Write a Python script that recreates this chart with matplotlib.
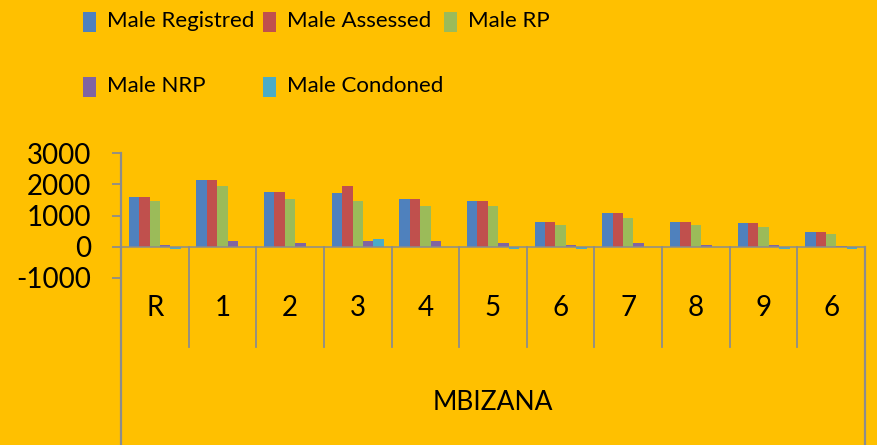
import matplotlib
matplotlib.use("Agg")
import matplotlib.pyplot as plt
from matplotlib.patches import Rectangle
from matplotlib.lines import Line2D
from matplotlib.transforms import blended_transform_factory
import numpy as np

# ---- data ----
categories = ["R", "1", "2", "3", "4", "5", "6", "7", "8", "9", "6"]
group_label = "MBIZANA"
series_names = ["Male Registred", "Male Assessed", "Male RP", "Male NRP", "Male Condoned"]
male_registred = [1580, 2150, 1760, 1710, 1520, 1470, 800, 1080, 800, 750, 460]
male_assessed = [1580, 2150, 1760, 1930, 1520, 1470, 800, 1080, 800, 750, 460]
male_rp = [1470, 1930, 1520, 1470, 1300, 1300, 690, 910, 690, 620, 400]
male_nrp = [65, 180, 120, 180, 180, 120, 65, 120, 65, 65, 10]
male_condoned = [-80, 0, 0, 240, 0, -80, -80, 0, 0, -80, -80]
yticks = [-1000, 0, 1000, 2000, 3000]

series = [male_registred, male_assessed, male_rp, male_nrp, male_condoned]
colors = ["#4F81BD", "#C0504D", "#9BBB59", "#8064A2", "#4BACC6"]
bg = "#FFC000"
axis_col = "#8C8C8C"

plt.rcParams["font.family"] = ["Lato", "DejaVu Sans"]
plt.rcParams["axes.unicode_minus"] = False

W, H = 877, 445
fig = plt.figure(figsize=(W / 100, H / 100), dpi=100, facecolor=bg)


def fx(px):
    return px / W


def fy(py):
    return 1 - py / H


# plot area spans the value range 3000 .. -1000
ax = fig.add_axes([fx(121), fy(278), fx(865) - fx(121), fy(153) - fy(278)])
ax.set_facecolor(bg)
ax.set_xlim(-0.5, len(categories) - 0.5)
ax.set_ylim(-1000, 3000)

n = len(series)
bw = 1 / (n + 1.5)
x = np.arange(len(categories))
for i, (vals, c) in enumerate(zip(series, colors)):
    ax.bar(x + (i - (n - 1) / 2) * bw, vals, width=bw, color=c, linewidth=0, zorder=2)

for s in ax.spines.values():
    s.set_visible(False)
ax.set_xticks([])
ax.set_yticks(yticks)
ax.set_yticklabels([str(v) for v in yticks], fontsize=20)
ax.tick_params(axis="y", direction="out", length=6.5, width=1.3, color=axis_col, pad=15)

# zero line
ax.axhline(0, color=axis_col, lw=1.1, zorder=3)

tr = blended_transform_factory(ax.transData, fig.transFigure)
# left value axis line running down through the label area
fig.add_artist(Line2D([-0.5, -0.5], [fy(153), 0], transform=tr, color=axis_col, lw=1.6))
# right border of the label area
fig.add_artist(Line2D([len(categories) - 0.5] * 2, [fy(247), 0], transform=tr, color=axis_col, lw=1.6))
# separators between categories
for k in range(len(categories) - 1):
    fig.add_artist(Line2D([k + 0.5, k + 0.5], [fy(247), fy(347)], transform=tr, color=axis_col, lw=1.3))

for xi, lab in zip(x, categories):
    fig.text(xi, fy(308), lab, transform=tr, ha="center", va="center", fontsize=20)
fig.text(fx(493), fy(402), group_label, ha="center", va="center", fontsize=19)

# legend drawn as two rows of swatches and labels
legend_pos = [(83, 22), (263, 22), (444, 22), (83, 87), (263, 87)]
for (px, py), name, c in zip(legend_pos, series_names, colors):
    fig.add_artist(Rectangle((fx(px), fy(py + 10)), fx(13), 20 / H,
                             transform=fig.transFigure, facecolor=c, edgecolor="none"))
    fig.text(fx(px + 24), fy(py - 1), name, ha="left", va="center", fontsize=16)

fig.savefig("out.png", dpi=100, facecolor=bg)
